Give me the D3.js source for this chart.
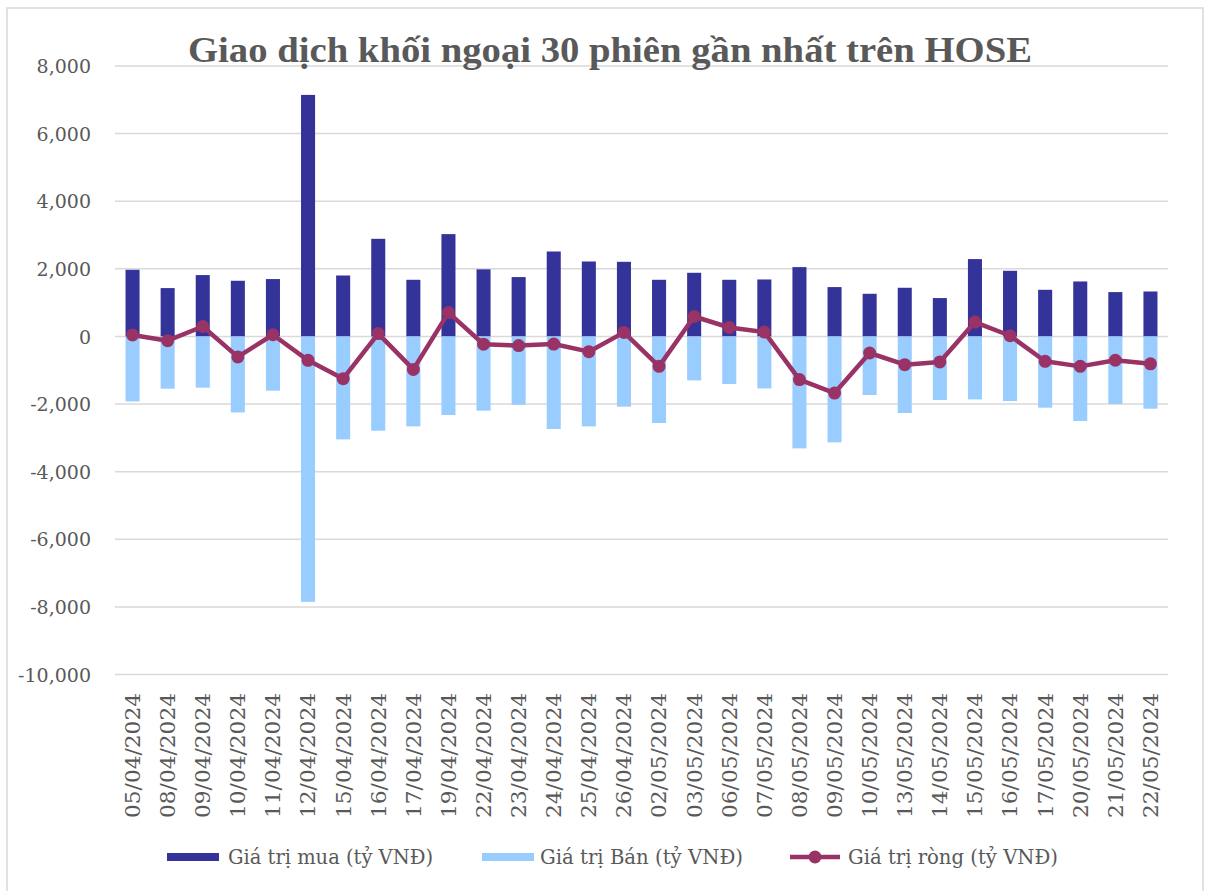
<!DOCTYPE html>
<html>
<head>
<meta charset="utf-8">
<script src="https://cdn.jsdelivr.net/npm/d3@7/dist/d3.min.js"></script>
<style>
  html, body { margin: 0; padding: 0; background: #ffffff; }
  svg { display: block; }
</style>
</head>
<body>
<script>
const dates = ["05/04/2024","08/04/2024","09/04/2024","10/04/2024","11/04/2024","12/04/2024","15/04/2024","16/04/2024","17/04/2024","19/04/2024","22/04/2024","23/04/2024","24/04/2024","25/04/2024","26/04/2024","02/05/2024","03/05/2024","06/05/2024","07/05/2024","08/05/2024","09/05/2024","10/05/2024","13/05/2024","14/05/2024","15/05/2024","16/05/2024","17/05/2024","20/05/2024","21/05/2024","22/05/2024"];
const buyValues = [1972,1430,1815,1647,1697,7145,1803,2888,1676,3027,1985,1756,2513,2217,2208,1676,1883,1676,1685,2051,1460,1262,1440,1135,2288,1942,1380,1626,1312,1330];
const sellValues = [-1921,-1546,-1516,-2247,-1605,-7851,-3045,-2788,-2660,-2324,-2196,-2019,-2737,-2660,-2078,-2560,-1300,-1407,-1537,-3311,-3133,-1732,-2264,-1880,-1862,-1910,-2108,-2501,-1998,-2137];
const netValues = [45,-125,295,-605,50,-706,-1250,85,-975,705,-230,-270,-225,-450,120,-885,590,265,130,-1275,-1675,-490,-835,-755,425,20,-735,-885,-705,-810];
const yTicks = [8000,6000,4000,2000,0,-2000,-4000,-6000,-8000,-10000];
const title = "Giao dịch khối ngoại 30 phiên gần nhất trên HOSE";
const seriesNames = ["Giá trị mua (tỷ VNĐ)","Giá trị Bán (tỷ VNĐ)","Giá trị ròng (tỷ VNĐ)"];

const W = 1206, H = 891;
const colBuy = "#333399", colSell = "#99CCFF", colNet = "#993366";
const font = "'DejaVu Serif', serif";
const textCol = "#595959";

const svg = d3.select("body").append("svg").attr("width", W).attr("height", H);

// chart border
svg.append("rect").attr("x", 7).attr("y", 8).attr("width", 1196).attr("height", 900)
  .attr("fill", "none").attr("stroke", "#d9d9d9").attr("stroke-width", 1.5);

const x = d3.scaleBand().domain(dates).range([115, 1168]).paddingInner(0.6).paddingOuter(0.3);
const xc = d => x(d) + x.bandwidth() / 2;
const y = d3.scaleLinear().domain([-10000, 8000]).range([674.5, 66]);

// gridlines
svg.append("g").selectAll("line").data(yTicks).join("line")
  .attr("x1", 115).attr("x2", 1168)
  .attr("y1", d => y(d)).attr("y2", d => y(d))
  .attr("stroke", "#d9d9d9").attr("stroke-width", 1.5);

// y axis labels
const yAxis = d3.axisLeft(y).tickValues(yTicks).tickSize(0).tickPadding(0)
  .tickFormat(d3.format(","));
const gy = svg.append("g").attr("transform", "translate(91,0)").call(yAxis);
gy.select(".domain").remove();
gy.selectAll("text").attr("font-family", font).attr("font-size", 19).attr("fill", textCol)
  .attr("dy", "0.35em").text(d => d3.format(",")(d).replace("−", "-"));

// bars
svg.append("g").selectAll("rect").data(dates).join("rect")
  .attr("x", d => x(d)).attr("width", x.bandwidth())
  .attr("y", (d, i) => y(buyValues[i])).attr("height", (d, i) => y(0) - y(buyValues[i]))
  .attr("fill", colBuy);
svg.append("g").selectAll("rect").data(dates).join("rect")
  .attr("x", d => x(d)).attr("width", x.bandwidth())
  .attr("y", y(0)).attr("height", (d, i) => y(sellValues[i]) - y(0))
  .attr("fill", colSell);

// net line
const line = d3.line().x((d, i) => xc(dates[i])).y(d => y(d));
svg.append("path").datum(netValues).attr("d", line)
  .attr("fill", "none").attr("stroke", colNet).attr("stroke-width", 4.5).attr("stroke-linejoin", "round");
svg.append("g").selectAll("circle").data(netValues).join("circle")
  .attr("cx", (d, i) => xc(dates[i])).attr("cy", d => y(d)).attr("r", 6.5).attr("fill", colNet);

// x axis labels
const xAxis = d3.axisBottom(x).tickSize(0).tickPadding(0);
const gx = svg.append("g").attr("transform", "translate(0,693)").call(xAxis);
gx.select(".domain").remove();
gx.selectAll("text").attr("font-family", font).attr("font-size", 21).attr("fill", textCol)
  .attr("transform", "rotate(-90)").attr("text-anchor", "end")
  .attr("x", 0).attr("y", 0).attr("dy", "0.35em")
  .attr("textLength", 125).attr("lengthAdjust", "spacingAndGlyphs");

// title
svg.append("text").attr("x", 610).attr("y", 62).attr("text-anchor", "middle")
  .attr("font-family", "'Liberation Serif', serif").attr("font-weight", "bold").attr("font-size", 36)
  .attr("fill", textCol).attr("textLength", 844).attr("lengthAdjust", "spacingAndGlyphs").text(title);

// legend
const lg = svg.append("g").attr("font-family", font).attr("font-size", 19.5).attr("fill", textCol);
const legendItems = [
  {name: seriesNames[0], x: 167, tx: 228, tw: 205, type: "rect", color: colBuy},
  {name: seriesNames[1], x: 482, tx: 540, tw: 203, type: "rect", color: colSell},
  {name: seriesNames[2], x: 790, tx: 848, tw: 210, type: "line", color: colNet}
];
legendItems.forEach(it => {
  const g = lg.append("g").attr("transform", `translate(${it.x},857)`);
  if (it.type === "rect") {
    g.append("rect").attr("x", 0).attr("y", -4).attr("width", 52).attr("height", 8).attr("fill", it.color);
  } else {
    g.append("line").attr("x1", 0).attr("x2", 50).attr("y1", 0).attr("y2", 0)
      .attr("stroke", it.color).attr("stroke-width", 4.5);
    g.append("circle").attr("cx", 25).attr("cy", 0).attr("r", 6.5).attr("fill", it.color);
  }
  g.append("text").attr("x", it.tx - it.x).attr("y", 0).attr("dy", "0.35em")
    .attr("textLength", it.tw).attr("lengthAdjust", "spacingAndGlyphs")
    .attr("fill", textCol).text(it.name);
});
</script>
</body>
</html>
